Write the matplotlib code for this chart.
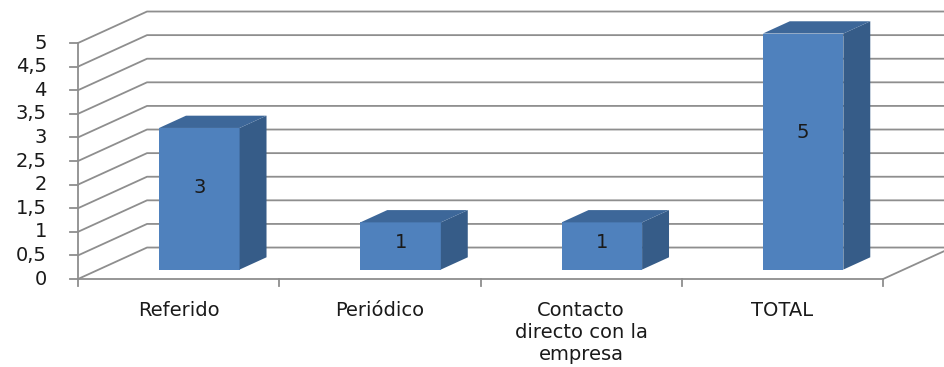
import matplotlib
matplotlib.use("Agg")
import matplotlib.pyplot as plt
from matplotlib.patches import Polygon

categories = ["Referido", "Periódico", "Contacto\ndirecto con la\nempresa", "TOTAL"]
values = [3, 1, 1, 5]
y_ticks = [0, 0.5, 1, 1.5, 2, 2.5, 3, 3.5, 4, 4.5, 5]
y_tick_labels = ["0", "0,5", "1", "1,5", "2", "2,5", "3", "3,5", "4", "4,5", "5"]

FRONT = "#4F81BD"
SIDE = "#365C88"
TOP = "#3D6799"
GRID = "#8E8E8E"
TXT = "#1a1a1a"
FS = 14

plt.rcParams['font.family'] = ['DejaVu Sans']

fig = plt.figure(figsize=(9.44, 3.67), dpi=100)
ax = fig.add_axes([0, 0, 1, 1])
ax.set_xlim(-0.8876, 3.803)
ax.set_ylim(-1.864, 5.911)
ax.axis("off")

ox, oy = 0.343, 0.667      # oblique depth offset (data units)
x0, x1 = -0.5, len(categories) - 0.5
ymax = y_ticks[-1]

# walls / gridlines
for v, lbl in zip(y_ticks, y_tick_labels):
    ax.plot([x0, x0 + ox, x1 + ox], [v, v + oy, v + oy], color=GRID, lw=1.3, zorder=1,
            solid_capstyle="butt")
    ax.plot([x0 - 0.04, x0], [v, v], color=GRID, lw=1.3, zorder=1)
    ax.text(x0 - 0.155, v, lbl, ha="right", va="center", fontsize=FS, color=TXT)
# front y axis
ax.plot([x0, x0], [0, ymax], color=GRID, lw=1.3, zorder=2)
# floor front axis and right edge
ax.plot([x0, x1], [0, 0], color=GRID, lw=1.3, zorder=2)
ax.plot([x1, x1 + ox], [0, oy], color=GRID, lw=1.3, zorder=2)
for i in range(len(categories) + 1):
    ax.plot([x0 + i, x0 + i], [0, -0.15], color=GRID, lw=1.3, zorder=2)

# bars
d_front, d_depth = 0.30, 0.39
w = 0.40
for i, v in enumerate(values):
    cx = i + d_front * ox
    by = d_front * oy
    ax.bar(cx, v, width=w, bottom=by, color=FRONT, zorder=3, linewidth=0)
    dx, dy = d_depth * ox, d_depth * oy
    xl, xr = cx - w / 2, cx + w / 2
    side = Polygon([(xr, by), (xr + dx, by + dy), (xr + dx, by + v + dy), (xr, by + v)],
                   closed=True, facecolor=SIDE, edgecolor="none", zorder=3)
    top = Polygon([(xl, by + v), (xr, by + v), (xr + dx, by + v + dy), (xl + dx, by + v + dy)],
                  closed=True, facecolor=TOP, edgecolor="none", zorder=3)
    ax.add_patch(side)
    ax.add_patch(top)
    ax.text(cx, by + v * 0.58, str(v), ha="center", va="center", fontsize=FS,
            color=TXT, zorder=4)

# category labels
for i, c in enumerate(categories):
    ax.text(i, -0.46, c, ha="center", va="top", fontsize=FS, color=TXT,
            linespacing=1.22, multialignment="center")

fig.savefig("out.png", dpi=100)
